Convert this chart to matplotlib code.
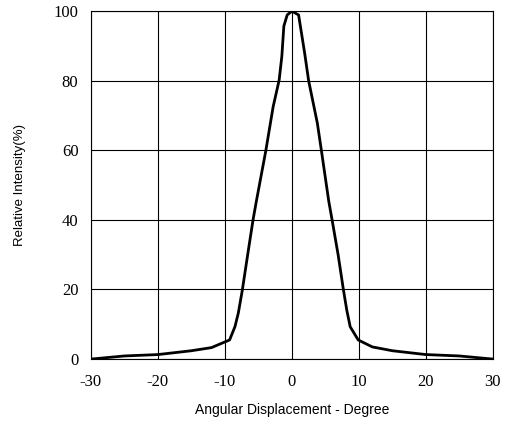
import matplotlib
matplotlib.use("Agg")
import matplotlib.pyplot as plt

plt.rcParams['axes.unicode_minus'] = False

angle = [-30, -25, -20, -15, -12, -9.3, -8.5, -8.0, -7.4, -6.6, -5.8, -5.3, -3.9, -2.8, -1.9, -1.5, -1.2, -0.7, 0,
         1.0, 1.9, 2.5, 3.8, 4.4, 5.5, 6.0, 6.9, 7.7, 8.2, 8.7, 9.9, 12, 15, 20, 25, 30]
intensity = [0, 0.9, 1.3, 2.4, 3.3, 5.5, 9.3, 13.2, 19.8, 30, 40, 45.4, 59.8, 72.5, 80.2, 87, 95.7, 98.9, 100,
             98.9, 88, 80, 67.8, 60, 45.4, 40, 30, 19.8, 14, 9.3, 5.5, 3.5, 2.4, 1.3, 0.9, 0]
xticks = [-30, -20, -10, 0, 10, 20, 30]
yticks = [0, 20, 40, 60, 80, 100]

fig = plt.figure(figsize=(5.05, 4.28), dpi=100)
ax = fig.add_axes([0.180, 0.161, 0.796, 0.813])
ax.plot(angle, intensity, color="black", linewidth=2.0)
ax.set_xlim(-30, 30)
ax.set_ylim(0, 100)
ax.set_xticks(xticks)
ax.set_yticks(yticks)
ax.grid(True, color="black", linewidth=0.8)
ax.tick_params(length=0, pad=9, labelsize=12)
ax.tick_params(axis="x", pad=11)
for lab in ax.get_xticklabels() + ax.get_yticklabels():
    lab.set_fontfamily("Liberation Serif")
for s in ax.spines.values():
    s.set_color("black")
    s.set_linewidth(0.8)
ax.set_xlabel("Angular Displacement - Degree", fontfamily="Liberation Sans", fontsize=10, labelpad=9)
ax.set_ylabel("Relative Intensity(%)", fontfamily="Liberation Sans", fontsize=9.5, labelpad=20)
fig.savefig("out.png", dpi=100)
